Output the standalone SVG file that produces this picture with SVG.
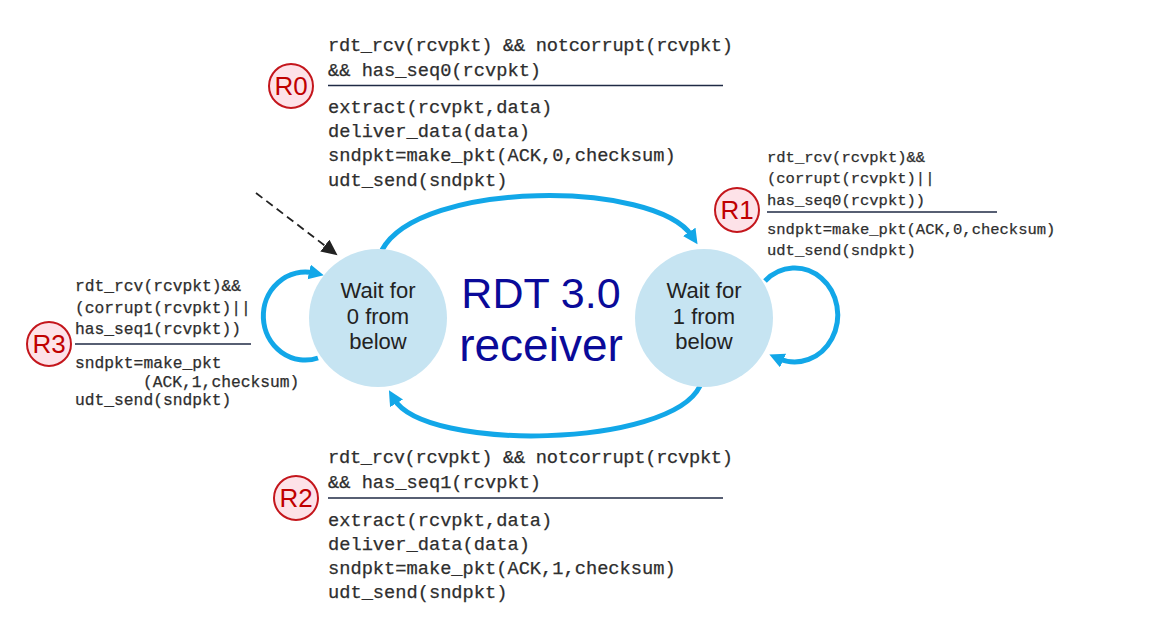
<svg xmlns="http://www.w3.org/2000/svg" width="1152" height="618" viewBox="0 0 1152 618">
<style>
.code{font-family:"Liberation Mono","Courier New",monospace;fill:#2e2e2e;stroke:#2e2e2e;stroke-width:0.25;}
.big{font-size:18.7px;}
.mid{font-size:16.3px;}
.sm{font-size:15.5px;}
.sep{stroke:#1f2a44;stroke-width:1.5;}
.state{fill:#c6e4f2;}
.slabel{font-family:"Liberation Sans",Arial,sans-serif;font-size:22px;fill:#222;text-anchor:middle;}
.title{font-family:"Liberation Sans",Arial,sans-serif;fill:#0a0a99;text-anchor:middle;}
.edge{fill:none;stroke:#12a7e8;stroke-width:5;marker-end:url(#ah);}
.badge circle{fill:#fde2e8;stroke:#c4161c;stroke-width:2;}
.badge text{font-family:"Liberation Sans",Arial,sans-serif;font-size:26px;fill:#c00000;text-anchor:middle;stroke:none;}
</style>
<defs>
<marker id="ah" markerUnits="userSpaceOnUse" markerWidth="16" markerHeight="16" refX="5" refY="7.5" orient="auto"><path d="M0,0 L15,7.5 L0,15 z" fill="#12a7e8"/></marker>
<marker id="ahk" markerUnits="userSpaceOnUse" markerWidth="18" markerHeight="16" refX="4" refY="7.5" orient="auto"><path d="M0,0 L16,7.5 L0,15 z" fill="#222"/></marker>
</defs>
<g id="connectors">
<path class="edge" d="M382,250 C420,180 655,180 692,236"/>
<path class="edge" d="M700,386 C670,448 425,452 394,399"/>
<path class="edge" d="M318,358 A42,44 0 1 1 314,273"/>
<path class="edge" d="M765,281 A43,47 0 1 1 778.5,358.5"/>
<path d="M256,193 L328,248" fill="none" stroke="#222" stroke-width="1.8" stroke-dasharray="8,5" marker-end="url(#ahk)"/>
</g>
<g id="state0">
<circle class="state" cx="378" cy="318" r="69"/>
<text class="slabel" x="378" y="298">Wait for</text>
<text class="slabel" x="378" y="324">0 from</text>
<text class="slabel" x="378" y="349">below</text>
</g>
<g id="state1">
<circle class="state" cx="704" cy="318" r="69"/>
<text class="slabel" x="704" y="298">Wait for</text>
<text class="slabel" x="704" y="324">1 from</text>
<text class="slabel" x="704" y="349">below</text>
</g>
<g id="title">
<text class="title" x="541" y="308" font-size="43">RDT 3.0</text>
<text class="title" x="541" y="361" font-size="46">receiver</text>
</g>
<g id="label-R0">
<text class="code big" x="328" y="50.5" textLength="405" lengthAdjust="spacing">rdt_rcv(rcvpkt) &amp;&amp; notcorrupt(rcvpkt)</text>
<text class="code big" x="328" y="75.5">&amp;&amp; has_seq0(rcvpkt)</text>
<line class="sep" x1="328" y1="85.5" x2="723" y2="85.5"/>
<text class="code big" x="328" y="112.5">extract(rcvpkt,data)</text>
<text class="code big" x="328" y="136.5">deliver_data(data)</text>
<text class="code big" x="328" y="160.5">sndpkt=make_pkt(ACK,0,checksum)</text>
<text class="code big" x="328" y="185.5">udt_send(sndpkt)</text>
<g class="badge"><circle cx="291" cy="86" r="22"/><text x="291" y="95">R0</text></g>
</g>
<g id="label-R1">
<text class="code sm" x="767" y="162">rdt_rcv(rcvpkt)&amp;&amp;</text>
<text class="code sm" x="767" y="183">(corrupt(rcvpkt)||</text>
<text class="code sm" x="767" y="204.5">has_seq0(rcvpkt))</text>
<line class="sep" x1="767" y1="212" x2="997" y2="212"/>
<text class="code sm" x="767" y="234">sndpkt=make_pkt(ACK,0,checksum)</text>
<text class="code sm" x="767" y="255">udt_send(sndpkt)</text>
<g class="badge"><circle cx="737" cy="210" r="22"/><text x="737" y="219">R1</text></g>
</g>
<g id="label-R2">
<text class="code big" x="328" y="462.5" textLength="405" lengthAdjust="spacing">rdt_rcv(rcvpkt) &amp;&amp; notcorrupt(rcvpkt)</text>
<text class="code big" x="328" y="487.5">&amp;&amp; has_seq1(rcvpkt)</text>
<line class="sep" x1="328" y1="498" x2="723" y2="498"/>
<text class="code big" x="328" y="525.5">extract(rcvpkt,data)</text>
<text class="code big" x="328" y="549.5">deliver_data(data)</text>
<text class="code big" x="328" y="573.5">sndpkt=make_pkt(ACK,1,checksum)</text>
<text class="code big" x="328" y="597.5">udt_send(sndpkt)</text>
<g class="badge"><circle cx="296" cy="498" r="22"/><text x="296" y="507">R2</text></g>
</g>
<g id="label-R3">
<text class="code mid" x="75" y="291">rdt_rcv(rcvpkt)&amp;&amp;</text>
<text class="code mid" x="75" y="313">(corrupt(rcvpkt)||</text>
<text class="code mid" x="75" y="334">has_seq1(rcvpkt))</text>
<line class="sep" x1="75" y1="344" x2="251" y2="344"/>
<text class="code mid" x="75" y="368">sndpkt=make_pkt</text>
<text class="code mid" x="143" y="387">(ACK,1,checksum)</text>
<text class="code mid" x="75" y="405">udt_send(sndpkt)</text>
<g class="badge"><circle cx="49" cy="344" r="22"/><text x="49" y="353">R3</text></g>
</g>
</svg>
